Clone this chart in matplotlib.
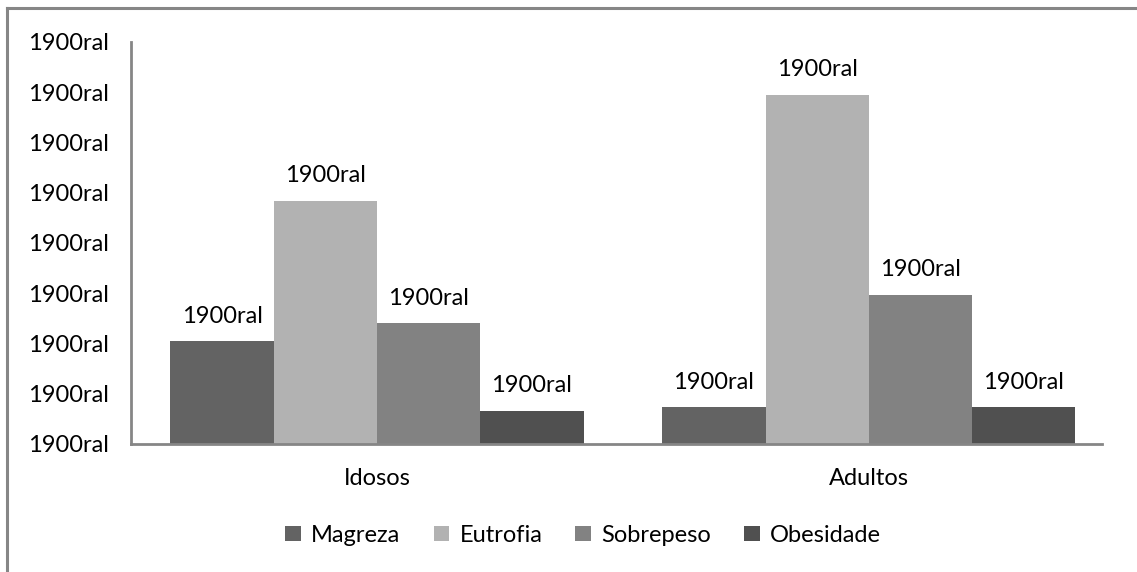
import matplotlib.pyplot as plt
import numpy as np

plt.rcParams['font.family'] = ['Lato', 'DejaVu Sans']

groups = ['Idosos', 'Adultos']
series = ['Magreza', 'Eutrofia', 'Sobrepeso', 'Obesidade']
values = {
    'Magreza': [20.4, 7.3],
    'Eutrofia': [48.4, 69.5],
    'Sobrepeso': [24.0, 29.7],
    'Obesidade': [6.6, 7.3],
}
colors = ['#636363', '#b2b2b2', '#828282', '#505050']
label_text = '1900ral'
yticks = np.arange(0, 81, 10)

fig = plt.figure(figsize=(11.37, 5.72), dpi=100)
ax = fig.add_axes([0.1152, 0.2238, 0.9688 - 0.1152, 0.9266 - 0.2238])

x = np.arange(len(groups))
w = 0.21
for i, s in enumerate(series):
    pos = x + (i - 1.5) * w
    bars = ax.bar(pos, values[s], width=w, color=colors[i], label=s)
    for b in bars:
        ax.annotate(label_text, (b.get_x() + b.get_width() / 2, b.get_height()),
                    xytext=(0, 13.5), textcoords='offset points',
                    ha='center', va='baseline', fontsize=17)

ax.set_xlim(-0.5, 1.473)
ax.set_ylim(0, 80)
ax.set_yticks(yticks)
ax.set_yticklabels([label_text] * len(yticks))
ax.set_xticks(x)
ax.set_xticklabels(groups)
ax.tick_params(axis='y', length=0, pad=16, labelsize=17)
ax.tick_params(axis='x', length=0, pad=17, labelsize=17)
for sp in ['top', 'right']:
    ax.spines[sp].set_visible(False)
for sp in ['left', 'bottom']:
    ax.spines[sp].set_color('#868686')
    ax.spines[sp].set_linewidth(2)

fig.legend(loc='center', bbox_to_anchor=(0.513, 0.064), ncol=4, frameon=False,
           fontsize=17, handlelength=0.65, handleheight=0.65, handletextpad=0.45,
           columnspacing=1.4)

# outer frame (only top and left visible, the rest is cropped)
fig.add_artist(plt.Line2D([0.0062, 0.0062], [0, 0.986], color='#868686', lw=2.2,
                          transform=fig.transFigure, solid_capstyle='projecting'))
fig.add_artist(plt.Line2D([0.0062, 1], [0.986, 0.986], color='#868686', lw=2.2,
                          transform=fig.transFigure, solid_capstyle='projecting'))

fig.savefig('out.png', dpi=100)
